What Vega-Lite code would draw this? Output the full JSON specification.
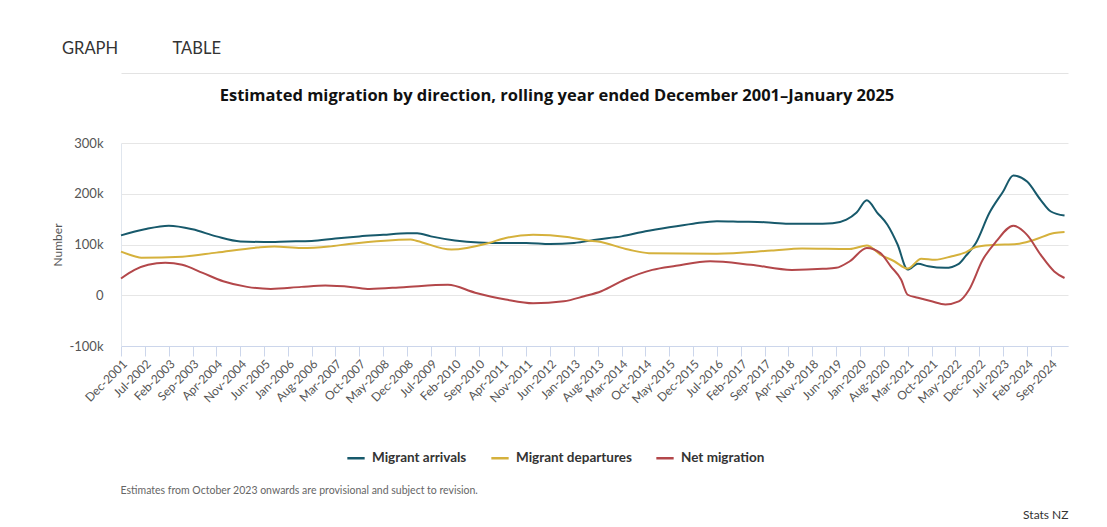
{
  "$schema": "https://vega.github.io/schema/vega-lite/v6.json",
  "width": 947,
  "height": 203,
  "autosize": {"type": "none"},
  "padding": {"left": 121, "top": 143, "right": 39, "bottom": 181},
  "background": "white",
  "title": {
    "text": "GRAPH\u00a0\u00a0\u00a0\u00a0\u00a0\u00a0\u00a0\u00a0\u00a0\u00a0\u00a0\u00a0\u00a0TABLE",
    "anchor": "start",
    "frame": "group",
    "dx": -59,
    "dy": -12,
    "fontSize": 16.5,
    "fontWeight": "normal",
    "color": "#333333"
  },
  "config": {"view": {"stroke": null}, "font": "Lato"},
  "data": {
    "values": [
      {"date": "2001-12-01", "series": "Migrant arrivals", "value": 118000},
      {"date": "2002-07-01", "series": "Migrant arrivals", "value": 130000},
      {"date": "2003-02-01", "series": "Migrant arrivals", "value": 137000},
      {"date": "2003-09-01", "series": "Migrant arrivals", "value": 130000},
      {"date": "2004-04-01", "series": "Migrant arrivals", "value": 116000},
      {"date": "2004-11-01", "series": "Migrant arrivals", "value": 106000},
      {"date": "2005-06-01", "series": "Migrant arrivals", "value": 105000},
      {"date": "2006-01-01", "series": "Migrant arrivals", "value": 106000},
      {"date": "2006-08-01", "series": "Migrant arrivals", "value": 107000},
      {"date": "2007-03-01", "series": "Migrant arrivals", "value": 112000},
      {"date": "2007-10-01", "series": "Migrant arrivals", "value": 116000},
      {"date": "2008-05-01", "series": "Migrant arrivals", "value": 119000},
      {"date": "2008-12-01", "series": "Migrant arrivals", "value": 122000},
      {"date": "2009-03-01", "series": "Migrant arrivals", "value": 122000},
      {"date": "2009-07-01", "series": "Migrant arrivals", "value": 116000},
      {"date": "2010-02-01", "series": "Migrant arrivals", "value": 108000},
      {"date": "2010-09-01", "series": "Migrant arrivals", "value": 104000},
      {"date": "2011-04-01", "series": "Migrant arrivals", "value": 103000},
      {"date": "2011-11-01", "series": "Migrant arrivals", "value": 103000},
      {"date": "2012-06-01", "series": "Migrant arrivals", "value": 101000},
      {"date": "2013-01-01", "series": "Migrant arrivals", "value": 103000},
      {"date": "2013-08-01", "series": "Migrant arrivals", "value": 110000},
      {"date": "2014-03-01", "series": "Migrant arrivals", "value": 116000},
      {"date": "2014-10-01", "series": "Migrant arrivals", "value": 126000},
      {"date": "2015-05-01", "series": "Migrant arrivals", "value": 134000},
      {"date": "2015-12-01", "series": "Migrant arrivals", "value": 141000},
      {"date": "2016-07-01", "series": "Migrant arrivals", "value": 146000},
      {"date": "2017-02-01", "series": "Migrant arrivals", "value": 145000},
      {"date": "2017-09-01", "series": "Migrant arrivals", "value": 144000},
      {"date": "2018-04-01", "series": "Migrant arrivals", "value": 141000},
      {"date": "2018-11-01", "series": "Migrant arrivals", "value": 141000},
      {"date": "2019-05-01", "series": "Migrant arrivals", "value": 142000},
      {"date": "2019-09-01", "series": "Migrant arrivals", "value": 149000},
      {"date": "2019-12-01", "series": "Migrant arrivals", "value": 163000},
      {"date": "2020-03-01", "series": "Migrant arrivals", "value": 187000},
      {"date": "2020-06-01", "series": "Migrant arrivals", "value": 163000},
      {"date": "2020-09-01", "series": "Migrant arrivals", "value": 139000},
      {"date": "2020-12-01", "series": "Migrant arrivals", "value": 100000},
      {"date": "2021-03-01", "series": "Migrant arrivals", "value": 50500},
      {"date": "2021-06-01", "series": "Migrant arrivals", "value": 62000},
      {"date": "2021-09-01", "series": "Migrant arrivals", "value": 57000},
      {"date": "2022-02-01", "series": "Migrant arrivals", "value": 54000},
      {"date": "2022-06-01", "series": "Migrant arrivals", "value": 62000},
      {"date": "2022-08-01", "series": "Migrant arrivals", "value": 77000},
      {"date": "2022-11-01", "series": "Migrant arrivals", "value": 103000},
      {"date": "2023-03-01", "series": "Migrant arrivals", "value": 162000},
      {"date": "2023-07-01", "series": "Migrant arrivals", "value": 204000},
      {"date": "2023-10-01", "series": "Migrant arrivals", "value": 236000},
      {"date": "2024-02-01", "series": "Migrant arrivals", "value": 224000},
      {"date": "2024-06-01", "series": "Migrant arrivals", "value": 188000},
      {"date": "2024-09-01", "series": "Migrant arrivals", "value": 165000},
      {"date": "2025-01-01", "series": "Migrant arrivals", "value": 157000},

      {"date": "2001-12-01", "series": "Migrant departures", "value": 86000},
      {"date": "2002-04-01", "series": "Migrant departures", "value": 77000},
      {"date": "2002-06-01", "series": "Migrant departures", "value": 74000},
      {"date": "2003-06-01", "series": "Migrant departures", "value": 76000},
      {"date": "2004-04-01", "series": "Migrant departures", "value": 84000},
      {"date": "2005-04-01", "series": "Migrant departures", "value": 94000},
      {"date": "2005-09-01", "series": "Migrant departures", "value": 96000},
      {"date": "2006-05-01", "series": "Migrant departures", "value": 93000},
      {"date": "2007-01-01", "series": "Migrant departures", "value": 96000},
      {"date": "2007-07-01", "series": "Migrant departures", "value": 101000},
      {"date": "2009-01-01", "series": "Migrant departures", "value": 110000},
      {"date": "2009-03-01", "series": "Migrant departures", "value": 107000},
      {"date": "2010-01-01", "series": "Migrant departures", "value": 90000},
      {"date": "2010-12-01", "series": "Migrant departures", "value": 103000},
      {"date": "2011-05-01", "series": "Migrant departures", "value": 113000},
      {"date": "2012-01-01", "series": "Migrant departures", "value": 119000},
      {"date": "2012-11-01", "series": "Migrant departures", "value": 115000},
      {"date": "2013-05-01", "series": "Migrant departures", "value": 108000},
      {"date": "2013-08-01", "series": "Migrant departures", "value": 106000},
      {"date": "2014-05-01", "series": "Migrant departures", "value": 90000},
      {"date": "2014-11-01", "series": "Migrant departures", "value": 83000},
      {"date": "2016-07-01", "series": "Migrant departures", "value": 82000},
      {"date": "2017-11-01", "series": "Migrant departures", "value": 88000},
      {"date": "2018-08-01", "series": "Migrant departures", "value": 92000},
      {"date": "2019-10-01", "series": "Migrant departures", "value": 91000},
      {"date": "2020-03-01", "series": "Migrant departures", "value": 98000},
      {"date": "2020-07-01", "series": "Migrant departures", "value": 80000},
      {"date": "2020-11-01", "series": "Migrant departures", "value": 67000},
      {"date": "2021-03-01", "series": "Migrant departures", "value": 52500},
      {"date": "2021-07-01", "series": "Migrant departures", "value": 72000},
      {"date": "2021-11-01", "series": "Migrant departures", "value": 70000},
      {"date": "2022-04-01", "series": "Migrant departures", "value": 77000},
      {"date": "2022-08-01", "series": "Migrant departures", "value": 84500},
      {"date": "2022-11-01", "series": "Migrant departures", "value": 95000},
      {"date": "2023-04-01", "series": "Migrant departures", "value": 99000},
      {"date": "2023-11-01", "series": "Migrant departures", "value": 101000},
      {"date": "2024-04-01", "series": "Migrant departures", "value": 109000},
      {"date": "2024-10-01", "series": "Migrant departures", "value": 122500},
      {"date": "2025-01-01", "series": "Migrant departures", "value": 124500},

      {"date": "2001-12-01", "series": "Net migration", "value": 33000},
      {"date": "2002-04-01", "series": "Net migration", "value": 50000},
      {"date": "2002-08-01", "series": "Net migration", "value": 60000},
      {"date": "2003-01-01", "series": "Net migration", "value": 64000},
      {"date": "2003-06-01", "series": "Net migration", "value": 60000},
      {"date": "2003-12-01", "series": "Net migration", "value": 44000},
      {"date": "2004-06-01", "series": "Net migration", "value": 27500},
      {"date": "2005-01-01", "series": "Net migration", "value": 16500},
      {"date": "2005-08-01", "series": "Net migration", "value": 12500},
      {"date": "2006-05-01", "series": "Net migration", "value": 16500},
      {"date": "2006-12-01", "series": "Net migration", "value": 19000},
      {"date": "2007-08-01", "series": "Net migration", "value": 16000},
      {"date": "2008-01-01", "series": "Net migration", "value": 12500},
      {"date": "2008-11-01", "series": "Net migration", "value": 16000},
      {"date": "2009-12-01", "series": "Net migration", "value": 20500},
      {"date": "2010-08-01", "series": "Net migration", "value": 5000},
      {"date": "2011-05-01", "series": "Net migration", "value": -8500},
      {"date": "2012-01-01", "series": "Net migration", "value": -16000},
      {"date": "2012-10-01", "series": "Net migration", "value": -12000},
      {"date": "2013-04-01", "series": "Net migration", "value": -2000},
      {"date": "2013-09-01", "series": "Net migration", "value": 8000},
      {"date": "2014-04-01", "series": "Net migration", "value": 31000},
      {"date": "2014-12-01", "series": "Net migration", "value": 50000},
      {"date": "2015-07-01", "series": "Net migration", "value": 58000},
      {"date": "2016-05-01", "series": "Net migration", "value": 67000},
      {"date": "2017-05-01", "series": "Net migration", "value": 60000},
      {"date": "2018-05-01", "series": "Net migration", "value": 50000},
      {"date": "2019-02-01", "series": "Net migration", "value": 52000},
      {"date": "2019-06-01", "series": "Net migration", "value": 54000},
      {"date": "2019-10-01", "series": "Net migration", "value": 67000},
      {"date": "2020-03-01", "series": "Net migration", "value": 93000},
      {"date": "2020-07-01", "series": "Net migration", "value": 83000},
      {"date": "2020-10-01", "series": "Net migration", "value": 57000},
      {"date": "2021-01-01", "series": "Net migration", "value": 31000},
      {"date": "2021-03-01", "series": "Net migration", "value": 1000},
      {"date": "2021-06-01", "series": "Net migration", "value": -5000},
      {"date": "2021-10-01", "series": "Net migration", "value": -12000},
      {"date": "2022-02-01", "series": "Net migration", "value": -18000},
      {"date": "2022-06-01", "series": "Net migration", "value": -12000},
      {"date": "2022-09-01", "series": "Net migration", "value": 11000},
      {"date": "2023-01-01", "series": "Net migration", "value": 70000},
      {"date": "2023-05-01", "series": "Net migration", "value": 106000},
      {"date": "2023-10-01", "series": "Net migration", "value": 137000},
      {"date": "2024-02-01", "series": "Net migration", "value": 119000},
      {"date": "2024-06-01", "series": "Net migration", "value": 80000},
      {"date": "2024-10-01", "series": "Net migration", "value": 47000},
      {"date": "2025-01-01", "series": "Net migration", "value": 34000}
    ]
  },
  "layer": [
    {
      "mark": {"type": "line", "strokeWidth": 2, "interpolate": "monotone"},
      "encoding": {
        "x": {
          "field": "date",
          "type": "temporal",
          "scale": {
            "type": "utc",
            "domain": [
              {"year": 2001, "month": 12, "date": 1, "utc": true},
              {"year": 2025, "month": 2, "date": 1, "utc": true}
            ]
          },
          "axis": {
            "values": [
              {"year": 2001, "month": 12, "date": 1, "utc": true},
              {"year": 2002, "month": 7, "date": 1, "utc": true},
              {"year": 2003, "month": 2, "date": 1, "utc": true},
              {"year": 2003, "month": 9, "date": 1, "utc": true},
              {"year": 2004, "month": 4, "date": 1, "utc": true},
              {"year": 2004, "month": 11, "date": 1, "utc": true},
              {"year": 2005, "month": 6, "date": 1, "utc": true},
              {"year": 2006, "month": 1, "date": 1, "utc": true},
              {"year": 2006, "month": 8, "date": 1, "utc": true},
              {"year": 2007, "month": 3, "date": 1, "utc": true},
              {"year": 2007, "month": 10, "date": 1, "utc": true},
              {"year": 2008, "month": 5, "date": 1, "utc": true},
              {"year": 2008, "month": 12, "date": 1, "utc": true},
              {"year": 2009, "month": 7, "date": 1, "utc": true},
              {"year": 2010, "month": 2, "date": 1, "utc": true},
              {"year": 2010, "month": 9, "date": 1, "utc": true},
              {"year": 2011, "month": 4, "date": 1, "utc": true},
              {"year": 2011, "month": 11, "date": 1, "utc": true},
              {"year": 2012, "month": 6, "date": 1, "utc": true},
              {"year": 2013, "month": 1, "date": 1, "utc": true},
              {"year": 2013, "month": 8, "date": 1, "utc": true},
              {"year": 2014, "month": 3, "date": 1, "utc": true},
              {"year": 2014, "month": 10, "date": 1, "utc": true},
              {"year": 2015, "month": 5, "date": 1, "utc": true},
              {"year": 2015, "month": 12, "date": 1, "utc": true},
              {"year": 2016, "month": 7, "date": 1, "utc": true},
              {"year": 2017, "month": 2, "date": 1, "utc": true},
              {"year": 2017, "month": 9, "date": 1, "utc": true},
              {"year": 2018, "month": 4, "date": 1, "utc": true},
              {"year": 2018, "month": 11, "date": 1, "utc": true},
              {"year": 2019, "month": 6, "date": 1, "utc": true},
              {"year": 2020, "month": 1, "date": 1, "utc": true},
              {"year": 2020, "month": 8, "date": 1, "utc": true},
              {"year": 2021, "month": 3, "date": 1, "utc": true},
              {"year": 2021, "month": 10, "date": 1, "utc": true},
              {"year": 2022, "month": 5, "date": 1, "utc": true},
              {"year": 2022, "month": 12, "date": 1, "utc": true},
              {"year": 2023, "month": 7, "date": 1, "utc": true},
              {"year": 2024, "month": 2, "date": 1, "utc": true},
              {"year": 2024, "month": 9, "date": 1, "utc": true}
            ],
            "labelExpr": "utcFormat(datum.value, '%b-%Y')",
            "labelAngle": -45,
            "labelFontSize": 12,
            "labelColor": "#555555",
            "labelPadding": 2,
            "labelOverlap": false,
            "tickColor": "#ccd6eb",
            "tickSize": 10,
            "domainColor": "#ccd6eb",
            "grid": false,
            "title": "Estimates from October 2023 onwards are provisional and subject to revision.",
            "titleX": -1,
            "titleY": 144,
            "titleAlign": "left",
            "titleBaseline": "middle",
            "titleFontSize": 10.5,
            "titleFontWeight": "normal",
            "titleColor": "#666666"
          }
        },
        "y": {
          "field": "value",
          "type": "quantitative",
          "scale": {"domain": [-100000, 300000], "nice": false, "zero": false},
          "axis": {
            "values": [-100000, 0, 100000, 200000, 300000],
            "labelExpr": "datum.value == 0 ? '0' : (datum.value / 1000) + 'k'",
            "grid": true,
            "gridColor": "#e6e6e6",
            "domain": true,
            "domainColor": "#e0e6ee",
            "ticks": false,
            "labelPadding": 18,
            "labelFontSize": 13,
            "labelColor": "#555555",
            "title": "Number",
            "titleX": -64,
            "titleY": 101.5,
            "titleAngle": -90,
            "titleAlign": "center",
            "titleBaseline": "middle",
            "titleFontSize": 12,
            "titleFontWeight": "normal",
            "titleColor": "#555555"
          }
        },
        "color": {
          "field": "series",
          "type": "nominal",
          "scale": {
            "domain": ["Migrant arrivals", "Migrant departures", "Net migration"],
            "range": ["#17596b", "#d5b13c", "#b3474a"]
          },
          "legend": {
            "orient": "none",
            "legendX": 225,
            "legendY": 305,
            "direction": "horizontal",
            "title": null,
            "symbolType": "stroke",
            "symbolSize": 300,
            "symbolStrokeWidth": 2.5,
            "labelFontSize": 13.5,
            "labelFontWeight": "bold",
            "labelColor": "#333333",
            "labelOffset": 6,
            "columnPadding": 19
          }
        }
      }
    },
    {
      "mark": {"type": "line", "opacity": 0},
      "encoding": {
        "x": {
          "field": "date",
          "type": "temporal",
          "scale": {"type": "utc"},
          "axis": {
            "orient": "top",
            "offset": 70,
            "labels": false,
            "ticks": false,
            "grid": false,
            "domainColor": "#e3e3e3",
            "title": "Estimated migration by direction, rolling year ended December 2001–January 2025",
            "titleX": 435.5,
            "titleY": 22,
            "titleAlign": "center",
            "titleBaseline": "middle",
            "titleFont": "Open Sans",
            "titleFontSize": 16.5,
            "titleFontWeight": "bold",
            "titleColor": "#111111"
          }
        },
        "y": {
          "field": "value",
          "type": "quantitative",
          "axis": {
            "orient": "right",
            "labels": false,
            "ticks": false,
            "grid": false,
            "domain": false,
            "title": "Stats NZ",
            "titleAngle": 0,
            "titleX": 0,
            "titleY": 371,
            "titleAlign": "right",
            "titleBaseline": "middle",
            "titleFontSize": 12,
            "titleFontWeight": "normal",
            "titleColor": "#333333"
          }
        }
      }
    }
  ],
  "resolve": {"axis": {"x": "independent", "y": "independent"}}
}
